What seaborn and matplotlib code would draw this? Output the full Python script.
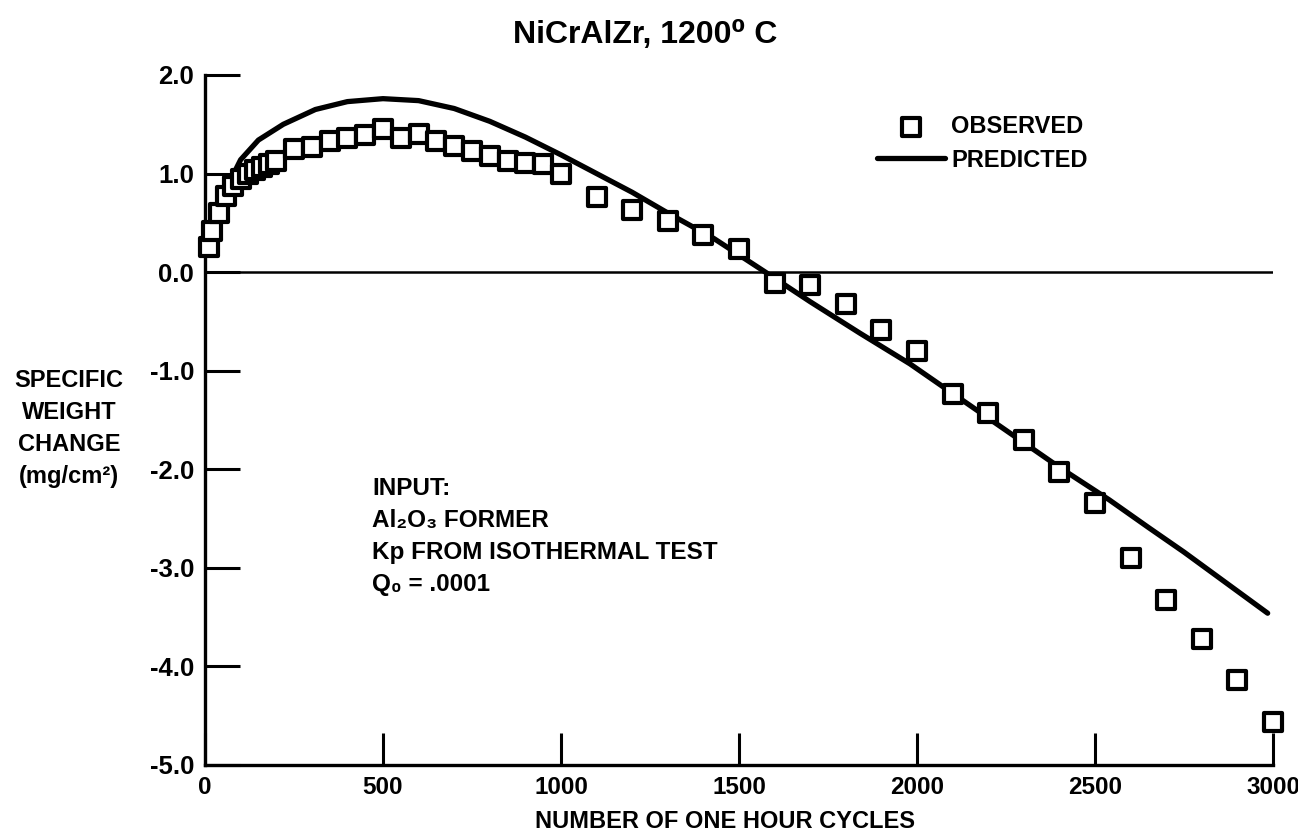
import matplotlib
matplotlib.use("Agg")
import matplotlib.pyplot as plt
import seaborn as sns
from matplotlib.ticker import FixedLocator, FixedFormatter

# observed specific weight change (mg/cm2) vs cycles
obs_cycles = [10, 20, 40, 60, 80, 100, 120, 140, 160, 180, 200,
              250, 300, 350, 400, 450, 500, 550, 600, 650, 700, 750, 800, 850, 900, 950, 1000,
              1100, 1200, 1300, 1400, 1500, 1600, 1700, 1800, 1900, 2000,
              2100, 2200, 2300, 2400, 2500, 2600, 2700, 2800, 2900, 3000]
obs_weight = [0.26, 0.42, 0.60, 0.77, 0.87, 0.94, 1.00, 1.04, 1.07, 1.10, 1.13,
              1.25, 1.27, 1.33, 1.36, 1.39, 1.45, 1.36, 1.40, 1.33, 1.28, 1.23, 1.18, 1.13, 1.11, 1.10, 1.00,
              0.76, 0.63, 0.52, 0.38, 0.23, -0.11, -0.13, -0.32, -0.59, -0.80,
              -1.24, -1.43, -1.70, -2.03, -2.34, -2.90, -3.33, -3.72, -4.14, -4.56]

# predicted curve
pred_cycles = [60, 100, 150, 220, 310, 400, 500, 600, 700, 800, 900, 1000, 1100, 1200,
               1300, 1430, 1570, 1700, 1840, 1980, 2120, 2260, 2400, 2540, 2650, 2750, 2985]
pred_weight = [0.85, 1.14, 1.34, 1.50, 1.65, 1.73, 1.76, 1.74, 1.66, 1.53, 1.37, 1.19, 1.00, 0.81,
               0.60, 0.34, 0.01, -0.30, -0.62, -0.93, -1.28, -1.63, -1.98, -2.31, -2.59, -2.84, -3.46]

x_ticks = [0, 500, 1000, 1500, 2000, 2500, 3000]
y_ticks = [-5, -4, -3, -2, -1, 0, 1, 2]
y_labels = ["-5.0", "-4.0", "-3.0", "-2.0", "-1.0", "0.0", "1.0", "2.0"]

sns.set_style("ticks")
plt.rcParams["font.family"] = ["Liberation Sans", "DejaVu Sans"]
plt.rcParams["font.weight"] = "bold"
plt.rcParams["text.color"] = "black"
plt.rcParams["xtick.color"] = "black"
plt.rcParams["ytick.color"] = "black"

W, H = 1298, 839
fig = plt.figure(figsize=(W / 100, H / 100), dpi=100)
ax = fig.add_axes([205 / W, 1 - 765 / H, (1273 - 205) / W, (765 - 75) / H])

ax.axhline(0, color="black", lw=1.8, zorder=1)
sns.lineplot(x=pred_cycles, y=pred_weight, ax=ax, color="black", lw=3.8,
             label="PREDICTED", zorder=2)
sns.scatterplot(x=obs_cycles, y=obs_weight, ax=ax, marker="s", s=185,
                facecolor="white", edgecolor="black", linewidth=3.0,
                label="OBSERVED", zorder=3, clip_on=False)

ax.set_xlim(0, 3000)
ax.set_ylim(-5, 2)
ax.xaxis.set_major_locator(FixedLocator(x_ticks))
ax.yaxis.set_major_locator(FixedLocator(y_ticks))
ax.yaxis.set_major_formatter(FixedFormatter(y_labels))
ax.tick_params(axis="both", which="major", direction="in", width=2.2, colors="black",
               bottom=True, left=True, top=False, right=False)
ax.tick_params(axis="x", length=23, pad=8, labelsize=17.5)
ax.tick_params(axis="y", length=25, pad=8, labelsize=18.5)
for lab in ax.get_xticklabels() + ax.get_yticklabels():
    lab.set_fontweight("bold")

sns.despine(ax=ax)
for side in ["left", "bottom"]:
    ax.spines[side].set_linewidth(2.4)
    ax.spines[side].set_color("black")
ax.set_xlabel("")
ax.set_ylabel("")

# legend: observed first
handles, labels = ax.get_legend_handles_labels()
order = [labels.index("OBSERVED"), labels.index("PREDICTED")]
ax.legend([handles[i] for i in order], [labels[i] for i in order],
          loc="upper left", bbox_to_anchor=((877 - 205) / 1068, (765 - 115) / 690),
          frameon=False, handlelength=2.9, handletextpad=0.25,
          labelspacing=0.45, borderpad=0, borderaxespad=0,
          prop={"weight": "bold", "size": 17})

fig.text(645 / W, 1 - 35 / H, "NiCrAlZr, 1200\u2070 C", ha="center", va="center",
         fontsize=23, fontweight="bold")
fig.text(725 / W, 1 - 822 / H, "NUMBER OF ONE HOUR CYCLES", ha="center", va="center",
         fontsize=17, fontweight="bold")
fig.text(69 / W, 1 - 428 / H, "SPECIFIC\nWEIGHT\nCHANGE\n(mg/cm\u00b2)", ha="center",
         va="center", multialignment="center", fontsize=17, fontweight="bold",
         linespacing=1.5)
fig.text(372 / W, 1 - 477 / H,
         "INPUT:\nAl\u2082O\u2083 FORMER\nKp FROM ISOTHERMAL TEST\nQ\u2080 = .0001",
         ha="left", va="top", fontsize=17.5, fontweight="bold", linespacing=1.5)

fig.savefig("out.png", dpi=100)
